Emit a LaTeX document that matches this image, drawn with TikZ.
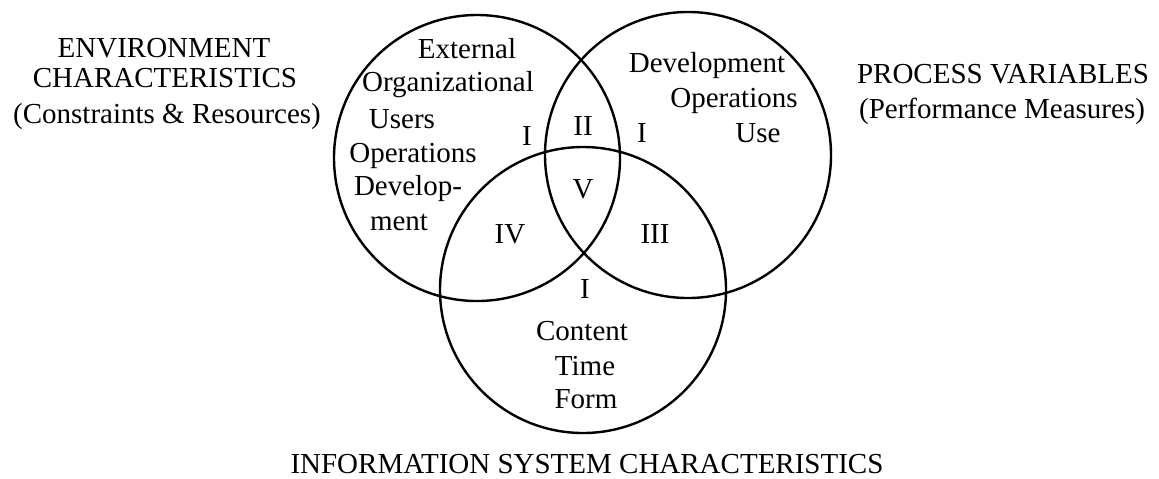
\documentclass[tikz,border=0pt]{standalone}
\usepackage{fontspec}
\setmainfont{Liberation Serif}
\begin{document}
\begin{tikzpicture}[x=0.5pt,y=-0.5pt,
  lbl/.style={anchor=base,inner sep=0pt,font=\fontsize{14.5}{17}\selectfont},
  ring/.style={draw=black,line width=1.2pt,circle,minimum size=143pt,inner sep=0pt}]
\useasboundingbox (0,0) rectangle (1159,478);
% circles
\node[ring] (env) at (477,158) {};
\node[ring] (proc) at (688,155) {};
\node[ring] (info) at (583,290) {};
% outside titles
\node[lbl] (t1) at (164,57) {ENVIRONMENT};
\node[lbl] (t2) at (165,87) {CHARACTERISTICS};
\node[lbl] (t3) at (167,123) {(Constraints \& Resources)};
\node[lbl] (p1) at (1003,83) {PROCESS VARIABLES};
\node[lbl] (p2) at (1002,118) {(Performance Measures)};
\node[lbl] (i1) at (587,473) {INFORMATION SYSTEM CHARACTERISTICS};
% left circle
\node[lbl] (e1) at (467,58) {External};
\node[lbl] (e2) at (448,91) {Organizational};
\node[lbl] (e3) at (402,128) {Users};
\node[lbl] (e4) at (413,162) {Operations};
\node[lbl] (e5) at (408,195) {Develop-};
\node[lbl] (e6) at (399,230) {ment};
\node[lbl] (r1) at (527,145) {I};
% right circle
\node[lbl] (d1) at (707,72) {Development};
\node[lbl] (d2) at (734,107) {Operations};
\node[lbl] (d3) at (758,142) {Use};
\node[lbl] (r2) at (642,142) {I};
% bottom circle
\node[lbl] (r3) at (585,298) {I};
\node[lbl] (c1) at (582,340) {Content};
\node[lbl] (c2) at (585,375) {Time};
\node[lbl] (c3) at (586,408) {Form};
% intersections
\node[lbl] (r4) at (583,135) {II};
\node[lbl] (r5) at (583,198) {V};
\node[lbl] (r6) at (510,243) {IV};
\node[lbl] (r7) at (655,243) {III};
\end{tikzpicture}
\end{document}
